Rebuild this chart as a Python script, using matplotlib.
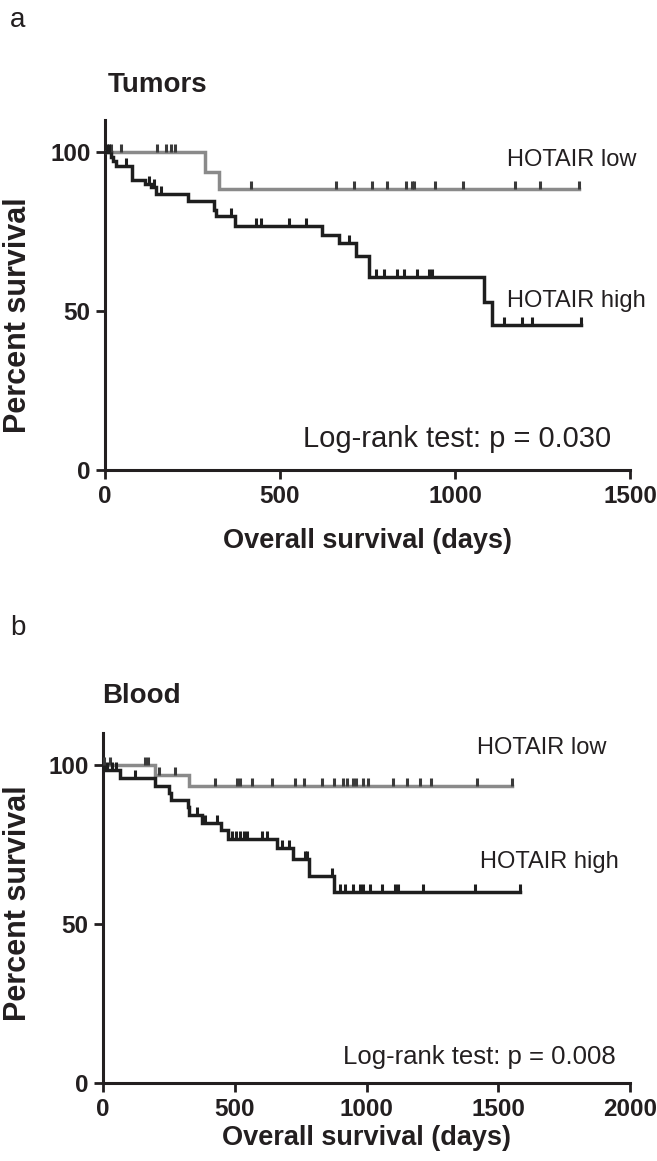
import numpy as np
import matplotlib
matplotlib.use("Agg")
import matplotlib.pyplot as plt
from matplotlib.path import Path

plt.rcParams['font.family'] = ['Liberation Sans', 'DejaVu Sans']

# Panel a - tumors (step times in days, survival % after each step)
tumor_low_t = [0, 287, 327]
tumor_low_s = [100, 93.8, 88.2]
tumor_low_cens = [18, 46, 148, 175, 189, 201, 417, 659, 712, 762, 806, 861, 878,
                  884, 942, 1023, 1172, 1244, 1355]

tumor_high_t = [0, 16, 23, 32, 77, 113, 132, 146, 236, 312, 317, 372, 619, 669,
                716, 754, 1082, 1106]
tumor_high_s = [100, 98.5, 97.0, 95.6, 91.2, 89.8, 88.9, 86.8, 84.6, 81.8, 79.7,
                76.8, 73.9, 71.3, 67.3, 60.8, 52.9, 45.6]
tumor_high_cens = [6, 11, 61, 127, 141, 160, 360, 431, 446, 526, 574, 697, 773,
                   797, 835, 854, 892, 925, 935, 1139, 1191, 1220, 1359]

# Panel b - blood
blood_low_t = [0, 198, 328]
blood_low_s = [100, 96.7, 93.4]
blood_low_cens = [5, 27, 160, 172, 211, 274, 426, 508, 520, 565, 641, 727, 764,
                  830, 878, 912, 925, 948, 961, 988, 1007, 1102, 1155, 1203, 1245,
                  1418, 1551]

blood_high_t = [0, 5, 66, 198, 249, 257, 321, 328, 375, 447, 476, 660, 720, 780, 875]
blood_high_s = [100, 98.3, 95.8, 93.5, 91.2, 89.0, 86.7, 84.3, 81.8, 79.4, 76.7,
                73.8, 70.4, 65.2, 60.0]
blood_high_cens = [15, 34, 50, 122, 356, 388, 434, 489, 505, 520, 535, 546, 603,
                   622, 679, 704, 767, 774, 868, 900, 919, 950, 976, 988, 1014,
                   1058, 1109, 1121, 1216, 1412, 1583]

GRAY = '#8a8a8a'
BLACK = '#1e1e1e'
TXT = '#231f20'

# censor tick: short vertical stroke going up from the line
tick_marker = Path([(0, 0), (0, 1)], [Path.MOVETO, Path.LINETO])


def level_at(times, levels, t):
    idx = np.searchsorted(times, t, side='right') - 1
    return np.array(levels)[idx]


def draw_curve(ax, times, levels, cens, color, tick_color):
    end = max(cens)
    x = list(times) + [end]
    y = list(levels) + [levels[-1]]
    ax.step(x, y, where='post', color=color, lw=2.5, solid_joinstyle='miter', zorder=3)
    cy = level_at(times, levels, np.array(cens))
    ax.plot(cens, cy, linestyle='none', marker=tick_marker, markersize=11,
            markeredgewidth=2.2, color=tick_color, zorder=4)


def style_axis(ax, xmax, xticks):
    ax.set_xlim(0, xmax)
    ax.set_ylim(0, 110)
    ax.spines['top'].set_visible(False)
    ax.spines['right'].set_visible(False)
    for s in ['left', 'bottom']:
        ax.spines[s].set_linewidth(2.2)
        ax.spines[s].set_color(TXT)
    ax.set_xticks(xticks)
    ax.set_yticks([0, 50, 100])
    ax.tick_params(direction='out', length=6.5, width=2, color=TXT, labelsize=17.5,
                   pad=4, labelcolor=TXT)
    for lab in ax.get_xticklabels() + ax.get_yticklabels():
        lab.set_fontweight('bold')
    ax.set_ylabel('Percent survival', fontsize=22, fontweight='bold', color=TXT)
    ax.set_xlabel('Overall survival (days)', fontsize=19.5, fontweight='bold', color=TXT)


fig = plt.figure(figsize=(6.57, 11.61), dpi=100)

# panel a
ax1 = fig.add_axes([105 / 657, 1 - 470 / 1161, 525 / 657, 350 / 1161])
draw_curve(ax1, tumor_low_t, tumor_low_s, tumor_low_cens, GRAY, '#3a3a3a')
draw_curve(ax1, tumor_high_t, tumor_high_s, tumor_high_cens, BLACK, BLACK)
style_axis(ax1, 1500, [0, 500, 1000, 1500])
ax1.yaxis.set_label_coords(-0.137, 0.443)
ax1.xaxis.set_label_coords(0.5, -0.166)
ax1.text(1148, 97.5, 'HOTAIR low', fontsize=17, color=TXT, ha='left', va='center')
ax1.text(1148, 53.2, 'HOTAIR high', fontsize=17, color=TXT, ha='left', va='center')
ax1.text(1447, 9.7, 'Log-rank test: p = 0.030', fontsize=21, color=TXT,
         ha='right', va='center')

# panel b
ax2 = fig.add_axes([103 / 657, 1 - 1083 / 1161, 527 / 657, 350 / 1161])
draw_curve(ax2, blood_low_t, blood_low_s, blood_low_cens, GRAY, '#3a3a3a')
draw_curve(ax2, blood_high_t, blood_high_s, blood_high_cens, BLACK, BLACK)
style_axis(ax2, 2000, [0, 500, 1000, 1500, 2000])
ax2.yaxis.set_label_coords(-0.133, 0.514)
ax2.xaxis.set_label_coords(0.5, -0.12)
ax2.text(1418, 105.3, 'HOTAIR low', fontsize=17, color=TXT, ha='left', va='center')
ax2.text(1431, 69.5, 'HOTAIR high', fontsize=17, color=TXT, ha='left', va='center')
ax2.text(1947, 8.2, 'Log-rank test: p = 0.008', fontsize=18.5, color=TXT,
         ha='right', va='center')

# panel letters and titles
fig.text(10 / 657, 1 - 20 / 1161, 'a', fontsize=20, color=TXT, ha='left', va='center')
fig.text(108 / 657, 1 - 85 / 1161, 'Tumors', fontsize=20, fontweight='bold',
         color=TXT, ha='left', va='center')
fig.text(10 / 657, 1 - 628 / 1161, 'b', fontsize=20, color=TXT, ha='left', va='center')
fig.text(102 / 657, 1 - 696 / 1161, 'Blood', fontsize=20, fontweight='bold',
         color=TXT, ha='left', va='center')

fig.savefig('out.png', dpi=100)
